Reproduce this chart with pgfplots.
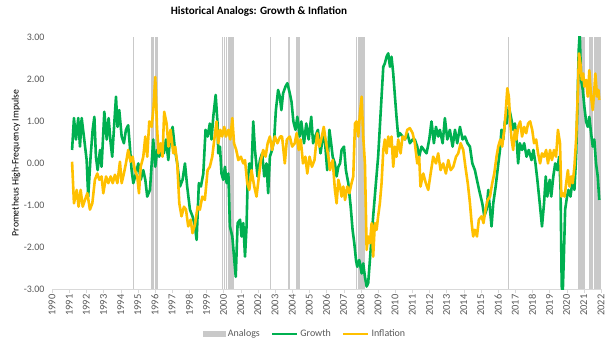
\documentclass[border=0pt]{standalone}
\usepackage{fontspec}
\setmainfont{Carlito}
\usepackage{pgfplots}
\pgfplotsset{compat=1.18}
\definecolor{growth}{HTML}{00B050}
\definecolor{infl}{HTML}{FFC000}
\definecolor{analog}{HTML}{C9C9C9}
\definecolor{axgray}{HTML}{D9D9D9}
\definecolor{txtgray}{HTML}{595959}
\newcommand\band[2]{\addplot[fill=analog, draw=none, forget plot] coordinates {(#1,-3) (#1,3) (#2,3) (#2,-3)};}
\begin{document}
\begin{tikzpicture}
\begin{axis}[
  name=main, at={(0,0)}, anchor=south west, scale only axis,
  width=549bp, height=252bp,
  xmin=1990, xmax=2022, ymin=-3, ymax=3,
  xtick={1990,...,2022}, ytick={-3,...,3},
  axis x line*=bottom, axis y line*=left,
  x axis line style={draw=axgray, -},
  y axis line style={draw=none},
  ytick style={draw=none},
  xtick style={draw=axgray},
  tick align=outside, major tick length=4bp,
  /pgf/number format/assume math mode=true,
  xticklabel style={rotate=90, anchor=east, font=\fontsize{10.5}{10.5}\selectfont, text=txtgray, /pgf/number format/1000 sep={}, inner sep=1.5bp},
  yticklabel style={font=\fontsize{10}{10}\selectfont, text=txtgray, /pgf/number format/fixed, /pgf/number format/precision=2, /pgf/number format/fixed zerofill},
  title={Historical Analogs: Growth \& Inflation},
  title style={at={(0.377,1.079)}, anchor=center, font=\bfseries\fontsize{11.2}{13}\selectfont, text=black},
  ylabel={Prometheus High-Frequency Impulse},
  every axis y label/.style={at={(-0.0656,0.5)}, rotate=90, anchor=center, font=\fontsize{9.8}{11}\selectfont, text=black},
  legend columns=3,
  legend style={at={(0.461,-0.1786)}, anchor=center, draw=none, fill=none, font=\fontsize{10}{11}\selectfont, text=txtgray, /tikz/every even column/.append style={column sep=9bp}},
]
\addplot[fill=analog, draw=none, legend image code/.code={\fill[analog] (0bp,-3bp) rectangle (23bp,3bp);}] coordinates {(1994.71,-3) (1994.71,3) (1994.77,3) (1994.77,-3)};
\addlegendentry{Analogs}
\band{1995.77}{1995.94}
\band{1996.00}{1996.18}
\band{1999.90}{1999.96}
\band{2000.01}{2000.07}
\band{2000.15}{2000.21}
\band{2000.28}{2000.61}
\band{2002.69}{2002.75}
\band{2003.75}{2003.87}
\band{2004.22}{2004.45}
\band{2007.70}{2007.76}
\band{2007.83}{2008.22}
\band{2016.56}{2016.62}
\band{2020.65}{2021.04}
\band{2021.29}{2021.53}
\band{2021.60}{2021.99}

\addplot[growth, line width=2.6bp, line join=round, legend image code/.code={\draw[growth, line width=2.6bp] (0bp,0bp) -- (25bp,0bp);}] coordinates {
(1991.17,0.31) (1991.28,1.07) (1991.40,0.56) (1991.53,1.07) (1991.63,0.39) (1991.73,1.07) (1991.86,0.63)
(1992.02,0.07) (1992.11,-0.80) (1992.25,0.15) (1992.37,0.79) (1992.47,1.10) (1992.56,0.15) (1992.66,-0.17)
(1992.80,0.31) (1992.89,-0.09) (1993.05,1.22) (1993.19,0.56) (1993.30,1.07) (1993.42,0.47) (1993.51,0.15)
(1993.63,0.94) (1993.73,1.58) (1993.82,0.86) (1993.92,1.26) (1994.06,0.63) (1994.19,0.47) (1994.31,0.79)
(1994.44,0.90) (1994.54,0.39) (1994.64,-0.17) (1994.74,-0.48) (1994.89,-0.25) (1995.03,-0.01) (1995.17,-0.40)
(1995.32,-0.17) (1995.44,-0.40) (1995.55,-0.80) (1995.71,-0.64) (1995.81,-0.01) (1995.90,0.56) (1996.02,-0.09)
(1996.13,0.31) (1996.25,0.15) (1996.38,0.39) (1996.52,0.23) (1996.64,0.56) (1996.78,0.07) (1996.87,0.56)
(1997.03,0.86) (1997.17,0.31) (1997.30,-0.01) (1997.46,-0.56) (1997.61,-0.40) (1997.75,-0.01) (1997.88,-0.56)
(1998.04,-1.11) (1998.19,-1.27) (1998.33,-1.50) (1998.43,-1.83) (1998.56,-0.48) (1998.68,-0.56) (1998.82,-0.25)
(1998.95,0.79) (1999.07,0.63) (1999.20,0.94) (1999.30,0.56) (1999.40,1.10) (1999.54,1.62) (1999.65,0.94)
(1999.69,0.23) (1999.79,0.39) (1999.88,-0.25) (1999.98,-0.40) (2000.08,-0.09) (2000.18,-0.48) (2000.28,-0.25)
(2000.37,-1.51) (2000.51,-1.75) (2000.61,-2.23) (2000.71,-2.71) (2000.82,-1.43) (2000.96,-1.35) (2001.05,-1.75)
(2001.15,-1.43) (2001.25,-2.23) (2001.34,-1.51) (2001.40,-0.48) (2001.50,-0.01) (2001.63,-0.17) (2001.73,0.99)
(2001.83,0.31) (2001.98,-0.32) (2002.12,0.07) (2002.25,0.23) (2002.37,-0.32) (2002.50,-0.01) (2002.60,-0.72)
(2002.70,0.15) (2002.83,0.31) (2002.95,0.56) (2003.05,1.26) (2003.18,1.74) (2003.28,1.58) (2003.37,1.26)
(2003.47,1.66) (2003.61,1.82) (2003.72,1.90) (2003.86,1.66) (2003.96,1.46) (2004.07,0.99) (2004.19,0.79)
(2004.30,1.10) (2004.44,0.63) (2004.53,0.99) (2004.69,0.47) (2004.82,0.94) (2004.96,0.56) (2005.11,1.10)
(2005.22,0.47) (2005.34,0.63) (2005.50,0.79) (2005.65,0.23) (2005.79,0.63) (2005.92,0.47) (2006.04,-0.17)
(2006.17,0.79) (2006.27,0.47) (2006.36,0.15) (2006.49,-0.01) (2006.59,-0.32) (2006.69,-0.09) (2006.79,-0.01)
(2006.88,0.31) (2007.02,0.39) (2007.13,-0.17) (2007.27,-0.48) (2007.41,-1.04) (2007.52,-1.59) (2007.62,-1.91)
(2007.72,-2.31) (2007.79,-2.47) (2007.91,-2.31) (2008.05,-2.63) (2008.14,-2.39) (2008.24,-2.71) (2008.34,-2.94)
(2008.43,-2.86) (2008.53,-2.31) (2008.63,-1.75) (2008.72,-1.27) (2008.88,-0.48) (2009.01,0.15) (2009.11,0.86)
(2009.21,1.58) (2009.31,2.29) (2009.40,2.37) (2009.50,2.53) (2009.60,2.61) (2009.70,2.29) (2009.79,2.53)
(2009.89,2.13) (2009.99,1.58) (2010.08,1.10) (2010.18,0.63) (2010.28,0.71) (2010.43,0.63) (2010.57,0.56)
(2010.71,0.71) (2010.86,0.47) (2011.02,0.56) (2011.15,0.56) (2011.29,0.39) (2011.40,0.15) (2011.54,0.39)
(2011.68,0.31) (2011.83,0.23) (2011.99,0.56) (2012.12,0.99) (2012.26,0.47) (2012.38,0.86) (2012.51,0.63)
(2012.61,0.79) (2012.77,0.47) (2012.90,1.07) (2013.04,0.56) (2013.19,0.79) (2013.35,0.39) (2013.49,0.79)
(2013.62,0.47) (2013.78,0.86) (2013.93,0.56) (2014.07,0.63) (2014.22,0.47) (2014.36,0.39) (2014.50,-0.01)
(2014.65,-0.17) (2014.81,-0.48) (2014.94,-0.72) (2015.08,-0.96) (2015.20,-1.27) (2015.33,-1.11) (2015.43,-0.64)
(2015.53,-1.11) (2015.62,-1.51) (2015.72,-0.96) (2015.86,-0.56) (2015.97,-0.17) (2016.11,0.31) (2016.20,0.79)
(2016.30,0.56) (2016.40,0.99) (2016.50,0.94) (2016.63,1.34) (2016.75,1.10) (2016.88,0.79) (2016.98,0.94)
(2017.07,0.63) (2017.17,-0.01) (2017.27,0.47) (2017.40,0.31) (2017.52,0.47) (2017.66,0.15) (2017.79,0.31)
(2017.95,0.07) (2018.06,0.31) (2018.18,-0.01) (2018.29,-0.40) (2018.43,-0.96) (2018.56,-1.51) (2018.68,-0.96)
(2018.78,-0.32) (2018.87,-0.80) (2019.01,-0.40) (2019.10,-0.80) (2019.22,-0.32) (2019.33,-0.01) (2019.45,-0.17)
(2019.56,0.15) (2019.64,-0.56) (2019.71,-2.94) (2019.77,-3.10) (2019.83,-2.31) (2019.91,-1.11) (2020.02,-0.80)
(2020.10,-0.64) (2020.22,-0.80) (2020.35,-0.40) (2020.45,-0.64) (2020.55,0.15) (2020.64,1.58) (2020.70,2.69)
(2020.76,3.10) (2020.84,1.98) (2020.94,1.74) (2021.03,1.34) (2021.13,0.99) (2021.23,0.86) (2021.32,1.10)
(2021.42,0.71) (2021.52,0.39) (2021.61,0.56) (2021.71,-0.01) (2021.81,-0.32) (2021.90,-0.88)
};
\addlegendentry{Growth}

\addplot[infl, line width=2.6bp, line join=round, legend image code/.code={\draw[infl, line width=2.6bp] (0bp,0bp) -- (25bp,0bp);}] coordinates {
(1991.17,0.03) (1991.28,-0.96) (1991.44,-0.64) (1991.55,-1.04) (1991.67,-0.64) (1991.79,-1.04) (1991.92,-0.88)
(1992.06,-0.72) (1992.21,-1.11) (1992.35,-0.96) (1992.50,-0.40) (1992.64,-0.25) (1992.76,-0.40) (1992.89,-0.32)
(1992.99,-0.72) (1993.15,-0.32) (1993.28,-0.48) (1993.42,-0.32) (1993.54,-0.48) (1993.67,-0.28) (1993.81,-0.48)
(1993.96,0.03) (1994.06,-0.48) (1994.19,-0.25) (1994.31,-0.01) (1994.44,0.31) (1994.58,0.03) (1994.70,0.15)
(1994.83,-0.17) (1994.97,-0.32) (1995.07,-0.72) (1995.17,-0.09) (1995.32,0.15) (1995.44,0.63) (1995.55,0.15)
(1995.67,0.99) (1995.81,0.86) (1995.92,1.34) (1996.02,2.05) (1996.12,0.86) (1996.21,0.23) (1996.33,0.47)
(1996.44,0.15) (1996.54,1.22) (1996.68,0.94) (1996.79,0.39) (1996.91,0.79) (1997.07,0.23) (1997.18,0.39)
(1997.30,-0.01) (1997.42,-0.96) (1997.55,-1.27) (1997.69,-1.04) (1997.81,-1.11) (1997.94,-1.51) (1998.08,-1.35)
(1998.19,-1.67) (1998.33,-1.47) (1998.49,-1.04) (1998.62,-1.11) (1998.76,-0.80) (1998.91,-0.88) (1999.07,-0.17)
(1999.20,-0.09) (1999.34,0.15) (1999.46,0.56) (1999.59,0.99) (1999.69,0.47) (1999.81,0.79) (1999.92,0.63)
(2000.04,0.86) (2000.14,0.63) (2000.28,0.79) (2000.39,0.56) (2000.51,1.07) (2000.61,0.47) (2000.74,0.31)
(2000.86,0.07) (2001.01,0.15) (2001.15,-0.01) (2001.25,0.07) (2001.38,-0.48) (2001.50,-0.64) (2001.63,-0.17)
(2001.79,-0.56) (2001.92,-0.80) (2002.06,-0.32) (2002.18,0.07) (2002.31,0.31) (2002.45,0.15) (2002.57,0.47)
(2002.70,0.63) (2002.83,0.31) (2002.99,0.63) (2003.14,0.47) (2003.30,0.63) (2003.41,0.63) (2003.57,-0.01)
(2003.69,0.56) (2003.86,0.63) (2004.00,0.39) (2004.15,0.47) (2004.26,0.71) (2004.38,0.31) (2004.50,0.56)
(2004.63,-0.01) (2004.77,0.15) (2004.88,-0.25) (2005.01,0.15) (2005.15,-0.09) (2005.30,0.07) (2005.46,0.71)
(2005.59,0.39) (2005.73,0.63) (2005.84,0.86) (2005.98,0.47) (2006.11,0.15) (2006.20,-0.17) (2006.36,0.07)
(2006.49,-0.64) (2006.59,-0.96) (2006.69,-0.40) (2006.79,-0.56) (2006.88,-0.80) (2006.98,-0.56) (2007.08,-0.88)
(2007.21,-0.56) (2007.33,-0.72) (2007.46,-0.48) (2007.56,-0.32) (2007.66,0.94) (2007.75,0.99) (2007.85,0.63)
(2007.95,1.18) (2008.05,1.58) (2008.14,0.63) (2008.24,-0.01) (2008.34,-2.07) (2008.43,-1.75) (2008.53,-1.91)
(2008.63,-1.43) (2008.72,-2.23) (2008.82,-1.43) (2008.92,-1.59) (2009.01,-1.27) (2009.11,-0.96) (2009.21,-0.48)
(2009.31,0.31) (2009.40,0.56) (2009.50,0.23) (2009.60,0.63) (2009.70,0.39) (2009.79,0.63) (2009.89,-0.09)
(2009.99,0.39) (2010.08,0.15) (2010.18,0.56) (2010.32,0.23) (2010.43,0.63) (2010.57,0.56) (2010.71,0.79)
(2010.86,0.83) (2011.02,0.71) (2011.15,0.47) (2011.29,-0.01) (2011.40,0.15) (2011.48,-0.56) (2011.64,-0.25)
(2011.79,-0.48) (2011.93,-0.64) (2012.07,-0.25) (2012.22,0.15) (2012.38,-0.01) (2012.51,0.23) (2012.65,-0.17)
(2012.80,-0.01) (2012.96,-0.25) (2013.10,0.07) (2013.24,-0.17) (2013.39,-0.09) (2013.55,0.15) (2013.68,0.23)
(2013.82,0.47) (2013.97,0.31) (2014.10,-0.10) (2014.24,-0.50) (2014.36,-0.95) (2014.46,-1.43) (2014.55,-1.75)
(2014.65,-1.59) (2014.77,-1.75) (2014.88,-1.35) (2015.04,-1.27) (2015.15,-1.43) (2015.27,-1.11) (2015.39,-0.88)
(2015.53,-0.80) (2015.66,-0.48) (2015.78,-0.25) (2015.91,0.15) (2016.01,0.39) (2016.13,0.56) (2016.24,0.39)
(2016.36,0.79) (2016.44,1.18) (2016.54,1.78) (2016.63,1.58) (2016.71,0.94) (2016.79,0.56) (2016.88,0.31)
(2016.98,0.79) (2017.07,0.56) (2017.17,0.86) (2017.29,0.99) (2017.40,0.63) (2017.52,0.86) (2017.64,0.71)
(2017.75,0.94) (2017.87,0.99) (2017.99,0.79) (2018.10,0.47) (2018.22,0.56) (2018.33,0.23) (2018.45,-0.01)
(2018.56,0.23) (2018.68,0.15) (2018.80,0.31) (2018.91,-0.01) (2019.03,0.31) (2019.14,0.07) (2019.26,0.31)
(2019.38,0.15) (2019.49,0.79) (2019.61,0.47) (2019.69,-0.80) (2019.78,-0.72) (2019.88,-0.80) (2019.97,-0.48)
(2020.07,-0.17) (2020.16,-0.56) (2020.26,-0.32) (2020.35,-0.48) (2020.45,-0.09) (2020.55,0.56) (2020.64,1.58)
(2020.72,2.61) (2020.80,2.37) (2020.88,1.98) (2020.96,2.13) (2021.03,1.82) (2021.13,1.98) (2021.23,1.58)
(2021.32,2.21) (2021.42,1.58) (2021.52,1.26) (2021.61,1.74) (2021.67,2.13) (2021.77,1.58) (2021.85,1.74)
(2021.90,1.50)
};
\addlegendentry{Inflation}
\end{axis}
\path[use as bounding box] (-52bp,-67bp) rectangle (561bp,289bp);
\end{tikzpicture}
\end{document}
